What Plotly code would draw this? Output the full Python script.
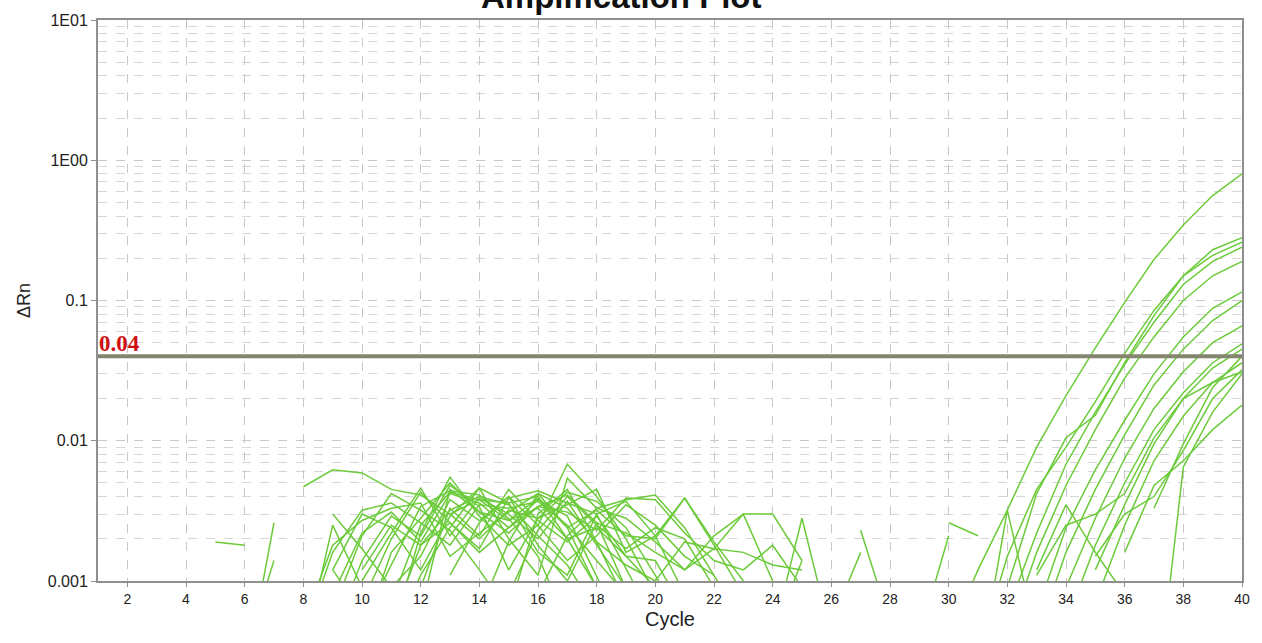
import plotly.graph_objects as go

N = None
cycles = list(range(1, 41))

well_01 = [N, N, N, N, N, N, N, N, 0.0008, 0.0022,
           0.0031, 0.0019, 0.0042, 0.0036, 0.0024, 0.0038, 0.0029, 0.0011, 0.0004, N,
           N, N, N, N, N, N, N, N, N, 0.0004,
           0.0012, 0.0032, 0.0090, 0.021, 0.046, 0.097, 0.196, 0.345, 0.56, 0.80]
well_02 = [N, N, N, N, 0.0019, 0.0018, N, N, N, 0.0004,
           0.0016, 0.0028, 0.0050, 0.0031, 0.0022, 0.0034, 0.0041, 0.0026, 0.0009, 0.0003,
           N, N, N, N, N, N, N, N, N, N,
           N, 0.0009, 0.0042, 0.0105, 0.0152, 0.036, 0.078, 0.15, 0.23, 0.28]
well_03 = [N, N, N, N, N, 0.0002, 0.0026, N, N, 0.0012,
           0.0025, 0.0018, 0.0032, 0.0040, 0.0035, 0.0021, 0.0013, 0.0006, N, N,
           N, N, N, N, N, N, N, N, N, N,
           0.0003, 0.0015, 0.0045, 0.009, 0.019, 0.042, 0.085, 0.15, 0.21, 0.26]
well_04 = [N, N, N, N, N, N, N, 0.0047, 0.0062, 0.0059,
           0.0045, 0.0041, 0.0030, 0.0038, 0.0027, 0.0033, 0.0020, 0.0024, 0.0015, 0.0009,
           0.0004, N, N, N, N, N, N, N, N, N,
           N, 0.0006, 0.0022, 0.0068, 0.016, 0.035, 0.07, 0.13, 0.19, 0.24]
well_05 = [N, N, N, N, N, 0.0003, 0.0014, N, N, 0.0007,
           0.0020, 0.0043, 0.0026, 0.0017, 0.0039, 0.0044, 0.0036, 0.0030, 0.0012, 0.0005,
           N, N, N, N, N, N, N, N, N, N,
           N, 0.0004, 0.0016, 0.0048, 0.012, 0.028, 0.055, 0.10, 0.15, 0.19]
well_06 = [N, N, N, N, N, N, N, 0.0003, 0.0025, 0.0009,
           0.0004, 0.0022, 0.0055, 0.0029, 0.0018, 0.0025, 0.0068, 0.0040, 0.0020, 0.0008,
           N, N, N, N, N, N, N, N, N, N,
           N, N, 0.0006, 0.0024, 0.0062, 0.014, 0.030, 0.055, 0.088, 0.115]
well_07 = [N, N, N, N, N, N, N, N, 0.0012, 0.0030,
           0.0024, 0.0012, 0.0029, 0.0046, 0.0020, 0.0011, 0.0054, 0.0033, 0.0038, 0.0041,
           0.0024, 0.0011, 0.0005, N, N, N, N, N, N, N,
           N, N, 0.0004, 0.0016, 0.0045, 0.011, 0.025, 0.045, 0.072, 0.10]
well_08 = [N, N, N, N, N, N, N, 0.0005, 0.0018, 0.0027,
           0.0033, 0.0036, 0.0015, 0.0022, 0.0031, 0.0042, 0.0024, 0.0009, 0.0004, N,
           N, N, N, N, N, N, N, N, N, N,
           N, N, N, 0.0009, 0.0028, 0.0075, 0.017, 0.031, 0.050, 0.066]
well_09 = [N, N, N, N, N, N, N, N, 0.0004, 0.0014,
           0.0029, 0.0021, 0.0048, 0.0034, 0.0012, 0.0028, 0.0035, 0.0045, 0.0016, 0.0021,
           0.0039, 0.0019, 0.0010, 0.0004, N, N, N, N, N, N,
           N, N, N, 0.0005, 0.0018, 0.0050, 0.012, 0.022, 0.036, 0.049]
well_10 = [N, N, N, N, N, N, N, N, 0.0030, 0.0017,
           0.0009, 0.0015, 0.0038, 0.0027, 0.0040, 0.0018, 0.0010, 0.0026, 0.0022, 0.0016,
           0.0012, 0.0017, 0.0030, 0.0030, 0.0014, N, N, N, N, N,
           N, N, N, N, 0.0012, 0.0035, 0.0095, 0.020, 0.033, 0.045]
well_11 = [N, N, N, N, N, N, N, N, 0.0006, 0.0021,
           0.0042, 0.0032, 0.0023, 0.0012, 0.0006, 0.0030, 0.0045, 0.0019, 0.0007, N,
           N, N, N, N, N, N, N, N, N, N,
           N, N, N, N, 0.0007, 0.0025, 0.0072, 0.015, 0.026, 0.036]
well_12 = [N, N, N, N, N, N, N, N, N, 0.0005,
           0.0013, 0.0034, 0.0044, 0.0041, 0.0028, 0.0015, 0.0005, N, N, N,
           N, N, N, N, N, N, N, N, N, N,
           N, N, N, N, 0.0015, 0.0030, 0.0040, 0.0085, 0.020, 0.032]
well_13 = [N, N, N, N, N, N, N, 0.0004, 0.0016, 0.0032,
           0.0036, 0.0026, 0.0018, 0.0035, 0.0033, 0.0037, 0.0025, 0.0014, 0.0008, N,
           N, N, N, N, N, N, N, N, N, N,
           N, N, N, N, N, 0.0016, 0.0048, 0.0072, 0.012, 0.018]
well_14 = [N, N, N, N, N, N, N, N, N, N,
           0.0007, 0.0025, 0.0043, 0.0038, 0.0036, 0.0016, 0.0011, 0.0030, 0.0037, 0.0021,
           0.0008, N, N, N, N, N, N, N, N, N,
           N, N, N, N, N, N, 0.0001, 0.0065, 0.016, 0.030]
well_15 = [N, N, N, N, N, N, N, N, N, 0.0010,
           0.0022, 0.0046, 0.0021, 0.0039, 0.0030, 0.0020, 0.0037, 0.0018, 0.0009, 0.0004,
           N, N, N, N, N, N, N, N, N, N,
           N, N, N, N, N, N, 0.0033, 0.0095, 0.024, 0.040]
well_16 = [N, N, N, N, N, N, N, N, N, N,
           0.0005, 0.0018, 0.0026, 0.0016, 0.0024, 0.0034, 0.0031, 0.0023, 0.0039, 0.0038,
           0.0022, 0.0014, 0.0012, 0.0018, 0.0009, N, N, N, N, N,
           N, N, N, N, N, N, N, N, N, N]
well_17 = [N, N, N, N, N, N, N, N, N, N,
           N, 0.0006, 0.0045, 0.0031, 0.0027, 0.0039, 0.0024, 0.0032, 0.0021, 0.0020,
           0.0039, 0.0018, 0.0008, 0.0004, 0.0028, 0.0004, N, N, N, N,
           N, N, 0.0012, 0.0035, 0.0016, 0.0008, 0.0003, N, N, N]
well_18 = [N, N, N, N, N, N, N, N, N, N,
           N, N, 0.0030, 0.0020, 0.0032, 0.0028, 0.0043, 0.0037, 0.0024, 0.0011,
           0.0005, N, N, 0.0004, 0.0014, N, 0.0023, 0.0005, N, N,
           N, N, N, N, N, N, N, N, N, N]
well_19 = [N, N, N, N, N, N, N, N, N, N,
           N, N, 0.0011, 0.0026, 0.0040, 0.0025, 0.0014, 0.0021, 0.0035, 0.0025,
           0.0015, 0.0011, N, N, N, 0.0005, 0.0016, N, 0.0004, 0.0021,
           N, N, N, N, N, N, N, N, N, N]
well_20 = [N, N, N, N, N, N, N, N, N, N,
           N, N, N, 0.0006, 0.0019, 0.0042, 0.0033, 0.0019, 0.0013, 0.0010,
           0.0019, 0.0017, 0.0016, 0.0013, 0.0012, N, N, N, N, 0.0026,
           0.0021, N, N, N, N, N, N, N, N, N]
well_21 = [N, N, N, N, N, N, N, N, N, N,
           N, N, N, N, 0.0008, 0.0023, 0.0040, 0.0025, 0.0017, 0.0024,
           0.0020, 0.0009, N, N, N, N, N, N, N, N,
           0.0002, 0.0032, 0.0004, N, N, N, N, N, N, N]
well_22 = [N, N, N, N, N, N, N, N, 0.0012, 0.0006,
           0.0004, 0.0011, 0.0024, 0.0046, 0.0036, 0.0040, 0.0020, 0.0009, N, N,
           N, N, N, N, N, N, N, N, N, N,
           N, N, 0.0011, 0.0025, 0.0030, 0.0042, 0.0105, 0.020, 0.026, 0.031]
well_23 = [N, N, N, N, N, N, N, N, N, N,
           N, 0.0009, 0.0033, 0.0021, 0.0045, 0.0027, 0.0019, 0.0029, 0.0015, 0.0014,
           0.0006, 0.0004, N, N, N, N, N, N, N, N,
           N, N, N, N, N, N, N, N, N, N]
well_24 = [N, N, N, N, N, N, N, N, N, N,
           N, N, N, N, N, 0.0008, 0.0021, 0.0033, 0.0028, 0.0019,
           0.0012, 0.0021, 0.0030, 0.0010, N, N, N, N, N, N,
           N, N, N, N, N, N, N, N, N, N]

wells = [well_01, well_02, well_03, well_04, well_05, well_06, well_07, well_08,
         well_09, well_10, well_11, well_12, well_13, well_14, well_15, well_16,
         well_17, well_18, well_19, well_20, well_21, well_22, well_23, well_24]

threshold = 0.04
threshold_label = "0.04"
x_ticks = list(range(2, 41, 2))
y_ticks = [0.001, 0.01, 0.1, 1, 10]
y_ticktext = ["0.001", "0.01", "0.1", "1E00", "1E01"]
y_minor = [k * 10.0 ** e for e in range(-3, 1) for k in range(2, 10)]

GREEN = "#6CCB3A"
GRID = "#C8C8C8"
AXIS = "#8F8F8F"

fig = go.Figure()
for w in wells:
    fig.add_trace(go.Scatter(x=cycles, y=w, mode="lines",
                             line=dict(color=GREEN, width=1.5),
                             connectgaps=False, showlegend=False,
                             hoverinfo="skip"))

fig.add_trace(go.Scatter(x=[cycles[0], cycles[-1]], y=[threshold, threshold],
                         mode="lines", line=dict(color="#85846F", width=4),
                         showlegend=False, hoverinfo="skip"))

fig.update_layout(
    width=1262, height=643,
    margin=dict(l=98, r=19, t=15, b=62),
    paper_bgcolor="white", plot_bgcolor="white",
    font=dict(family="Liberation Sans, Arial, sans-serif", color="#222222", size=14),
    showlegend=False,
)

fig.update_xaxes(
    range=[1, 40], tickvals=x_ticks, ticks="outside", ticklen=4,
    tickcolor=AXIS, tickfont=dict(size=14, color="#222222"),
    showgrid=True, gridcolor=GRID, griddash="dash", gridwidth=1,
    showline=True, linecolor=AXIS, linewidth=2, mirror=True,
    zeroline=False,
    title=dict(text="Cycle", font=dict(size=20, color="#222222"), standoff=6),
)
fig.update_yaxes(
    type="log", range=[-3, 1], tickvals=y_ticks, ticktext=y_ticktext,
    ticks="outside", ticklen=5, tickcolor=AXIS,
    tickfont=dict(size=16, color="#222222"),
    showgrid=True, gridcolor=GRID, griddash="dash", gridwidth=1,
    minor=dict(tickvals=y_minor, showgrid=True, gridcolor="#D6D6D6",
               griddash="dash", ticks=""),
    showline=True, linecolor=AXIS, linewidth=2, mirror=True,
    zeroline=False,
    title=dict(text="ΔRn", font=dict(size=18, color="#222222"), standoff=12),
)

fig.add_annotation(text="<b>Amplification Plot</b>", xref="paper", yref="paper",
                   x=0.458, y=1, xanchor="center", yanchor="bottom", yshift=3,
                   showarrow=False, font=dict(size=33, color="#111111",
                                              family="Liberation Sans, Arial, sans-serif"))

thr_paper = (-1.39794 + 3) / 4.0
fig.add_annotation(text="<b>" + threshold_label + "</b>", xref="paper", yref="paper",
                   x=0.0, y=thr_paper, xanchor="left", yanchor="bottom",
                   xshift=-1, yshift=-2, showarrow=False,
                   font=dict(size=23, color="#D01010",
                             family="Liberation Serif, Times New Roman, serif"))

fig.write_html("out.html")
